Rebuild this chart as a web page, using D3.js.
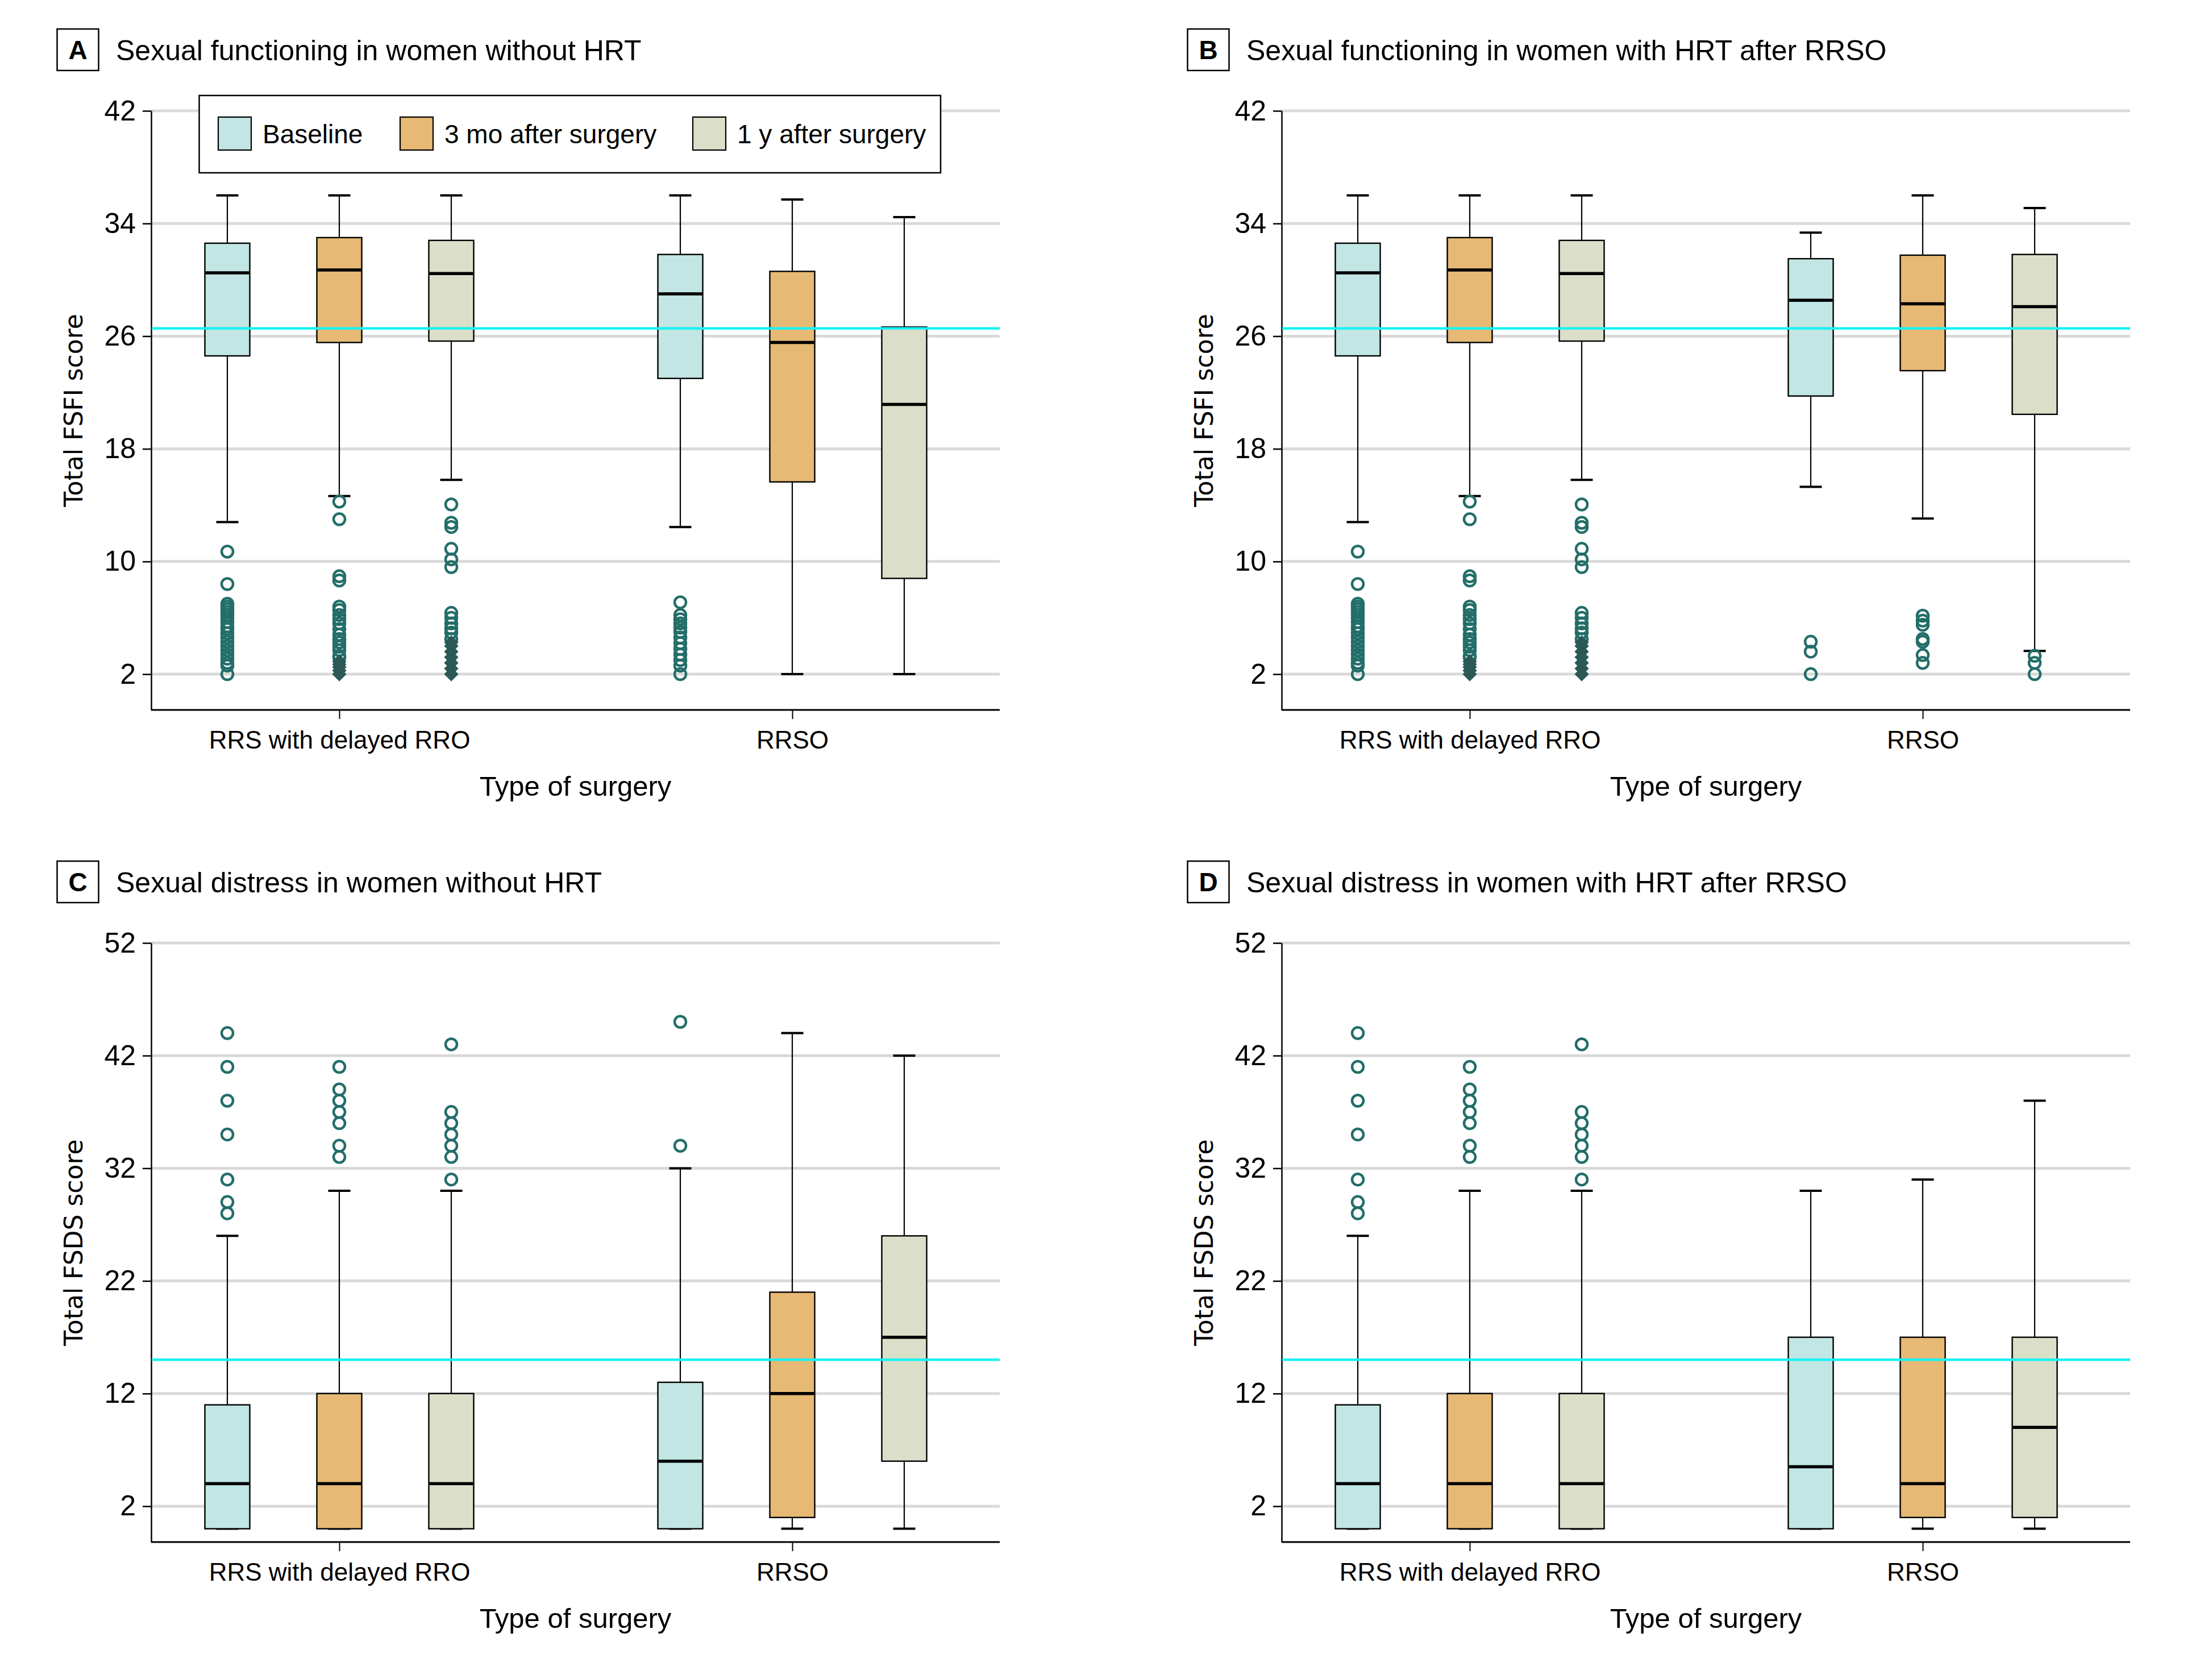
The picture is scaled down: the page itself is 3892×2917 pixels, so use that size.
<!DOCTYPE html>
<html>
<head>
<meta charset="utf-8">
<script src="https://cdn.jsdelivr.net/npm/d3@7"></script>
<style>
  html, body { margin: 0; padding: 0; background: #fff; }
  svg { display: block; }
</style>
</head>
<body>
<svg id="chart" width="3892" height="2917"></svg>
<script>
// ---------------- DATA ----------------
const surgeries = ["RRS with delayed RRO", "RRSO"];
const timepoints = ["Baseline", "3 mo after surgery", "1 y after surgery"];
const fills = ["#C1E6E4", "#E6B974", "#DBDFC9"];

const fsfiTicks = [2, 10, 18, 26, 34, 42];
const fsdsTicks = [2, 12, 22, 32, 42, 52];
const fsfiCutoff = 26.55;
const fsdsCutoff = 15;

// box stats per time point: [lower whisker, Q1, median, Q3, upper whisker]
const fsfiRRS = [
  [12.8, 24.6, 30.5, 32.6, 36],
  [14.65, 25.55, 30.7, 33.0, 36],
  [15.8, 25.65, 30.45, 32.8, 36]
];
const fsfiRRSONoHRT = [
  [12.45, 23.0, 29.0, 31.8, 36],
  [2, 15.65, 25.55, 30.6, 35.7],
  [2, 8.8, 21.15, 26.65, 34.45]
];
const fsfiRRSOHRT = [
  [15.3, 21.75, 28.55, 31.5, 33.35],
  [13.05, 23.55, 28.3, 31.75, 36],
  [3.65, 20.45, 28.1, 31.8, 35.1]
];
const fsdsRRS = [
  [0, 0, 4, 11, 26],
  [0, 0, 4, 12, 30],
  [0, 0, 4, 12, 30]
];
const fsdsRRSONoHRT = [
  [0, 0, 6, 13, 32],
  [0, 1, 12, 21, 44],
  [0, 6, 17, 26, 42]
];
const fsdsRRSOHRT = [
  [0, 0, 5.5, 17, 30],
  [0, 1, 4, 17, 31],
  [0, 1, 9, 17, 38]
];

// outliers (open circles) per time point
const fsfiRRSOut = [
  [10.7, 8.4, 7.0, 6.8, 6.6, 6.4, 6.2, 6.0, 5.7, 5.4, 5.2, 4.9, 4.6, 4.3, 4.0, 3.7, 3.4, 3.1, 2.8, 2.6, 2.0],
  [14.25, 13.0, 8.95, 8.65, 6.8, 6.55, 6.2, 5.9, 5.6, 5.2, 4.8, 4.5, 4.25, 3.95, 3.7, 3.3, 3.2],
  [14.05, 12.75, 12.45, 10.9, 10.15, 9.6, 6.35, 6.0, 5.6, 5.25, 4.95, 4.5]
];
// far outliers (filled diamonds) per time point
const fsfiRRSFar = [
  [],
  [2.9, 2.7, 2.5, 2.25, 2.0],
  [4.25, 4.0, 3.6, 3.2, 2.8, 2.4, 2.0]
];
const fsfiRRSONoHRTOut = [
  [7.1, 6.2, 5.9, 5.6, 5.3, 5.0, 4.6, 4.2, 3.8, 3.4, 3.0, 2.6, 2.0],
  [],
  []
];
const fsfiRRSOHRTOut = [
  [4.3, 3.6, 2.0],
  [6.15, 5.8, 5.5, 4.5, 4.3, 3.35, 2.8],
  [3.3, 2.8, 2.0]
];
const fsdsRRSOut = [
  [44, 41, 38, 35, 31, 29, 28],
  [41, 39, 38, 37, 36, 34, 33],
  [43, 37, 36, 35, 34, 33, 31]
];
const fsdsRRSONoHRTOut = [[45, 34], [], []];
const fsdsRRSOHRTOut = [[], [], []];

const panels = [
  { letter: "A", title: "Sexual functioning in women without HRT", yTitle: "Total FSFI score",
    ticks: fsfiTicks, yMin: -0.54, cutoff: fsfiCutoff, legend: true,
    stats: [fsfiRRS, fsfiRRSONoHRT], out: [fsfiRRSOut, fsfiRRSONoHRTOut], far: [fsfiRRSFar, [[], [], []]] },
  { letter: "B", title: "Sexual functioning in women with HRT after RRSO", yTitle: "Total FSFI score",
    ticks: fsfiTicks, yMin: -0.54, cutoff: fsfiCutoff, legend: false,
    stats: [fsfiRRS, fsfiRRSOHRT], out: [fsfiRRSOut, fsfiRRSOHRTOut], far: [fsfiRRSFar, [[], [], []]] },
  { letter: "C", title: "Sexual distress in women without HRT", yTitle: "Total FSDS score",
    ticks: fsdsTicks, yMin: -1.18, cutoff: fsdsCutoff, legend: false,
    stats: [fsdsRRS, fsdsRRSONoHRT], out: [fsdsRRSOut, fsdsRRSONoHRTOut], far: [[[], [], []], [[], [], []]] },
  { letter: "D", title: "Sexual distress in women with HRT after RRSO", yTitle: "Total FSDS score",
    ticks: fsdsTicks, yMin: -1.18, cutoff: fsdsCutoff, legend: false,
    stats: [fsdsRRS, fsdsRRSOHRT], out: [fsdsRRSOut, fsdsRRSOHRTOut], far: [[[], [], []], [[], [], []]] }
];

// ---------------- LAYOUT ----------------
const offsets = [[0, 0], [1989, 0], [0, 1464], [1989, 1464]];
const L = { axisX: 266, right: 1759, top: 195, bottom: 1249 };
const FONT = "'Liberation Sans', Arial, sans-serif";
const boxW = 79, capW = 39;

const svg = d3.select("#chart");

panels.forEach((p, pi) => {
  const g = svg.append("g").attr("transform", `translate(${offsets[pi][0]},${offsets[pi][1]})`);

  const y = d3.scaleLinear().domain([p.yMin, d3.max(p.ticks)]).range([L.bottom, L.top]);
  const x = d3.scalePoint().domain(surgeries).range([597, 1394]);
  const xOff = d3.scalePoint().domain(timepoints).range([-197, 197]);
  const color = d3.scaleOrdinal().domain(timepoints).range(fills);

  // panel label + title
  g.append("rect").attr("x", 100.5).attr("y", 51).attr("width", 73).attr("height", 73)
    .attr("fill", "#fff").attr("stroke", "#000").attr("stroke-width", 2.5);
  g.append("text").attr("x", 137).attr("y", 88).attr("text-anchor", "middle")
    .attr("dominant-baseline", "central").attr("font-family", FONT).attr("font-weight", "bold")
    .attr("font-size", 46).text(p.letter);
  g.append("text").attr("x", 204).attr("y", 106).attr("font-family", FONT)
    .attr("font-size", 50).text(p.title);

  // gridlines
  g.append("g").selectAll("line").data(p.ticks).join("line")
    .attr("x1", L.axisX).attr("x2", L.right)
    .attr("y1", d => y(d)).attr("y2", d => y(d))
    .attr("stroke", "#D9D9D9").attr("stroke-width", 5);

  // y axis
  const yAxis = g.append("g").attr("transform", `translate(${L.axisX},0)`)
    .call(d3.axisLeft(y).tickValues(p.ticks).tickSize(15).tickSizeOuter(0).tickPadding(12));
  yAxis.select(".domain").attr("stroke-width", 2.5);
  yAxis.selectAll(".tick line").attr("stroke-width", 2.5);
  yAxis.selectAll("text").attr("font-family", FONT).attr("font-size", 50).attr("fill", "#000");

  // x axis
  g.append("line").attr("x1", L.axisX).attr("x2", L.right).attr("y1", L.bottom).attr("y2", L.bottom)
    .attr("stroke", "#000").attr("stroke-width", 3);
  const xAxis = g.append("g").attr("transform", `translate(0,${L.bottom})`)
    .call(d3.axisBottom(x).tickSize(16).tickPadding(21));
  xAxis.select(".domain").remove();
  xAxis.selectAll(".tick line").attr("stroke-width", 2);
  xAxis.selectAll("text").attr("font-family", FONT).attr("font-size", 44).attr("fill", "#000");

  // axis titles
  g.append("text").attr("x", (L.axisX + L.right) / 2).attr("y", 1400).attr("text-anchor", "middle")
    .attr("font-family", FONT).attr("font-size", 49).text("Type of surgery");
  g.append("text").attr("transform", `translate(129,${(L.top + L.bottom) / 2}) rotate(-90)`)
    .attr("text-anchor", "middle").attr("dominant-baseline", "central")
    .attr("font-family", "'DejaVu Sans', sans-serif").attr("font-size", 44).text(p.yTitle);

  // boxes
  const boxes = [];
  surgeries.forEach((s, si) => timepoints.forEach((t, ti) => {
    const st = p.stats[si][ti];
    boxes.push({ s, t, lo: st[0], q1: st[1], med: st[2], q3: st[3], hi: st[4],
      out: p.out[si][ti], far: p.far[si][ti] });
  }));
  const cx = d => x(d.s) + xOff(d.t);

  const bg = g.append("g").selectAll("g").data(boxes).join("g");
  // whiskers
  bg.append("line").attr("x1", cx).attr("x2", cx).attr("y1", d => y(d.hi)).attr("y2", d => y(d.q3))
    .attr("stroke", "#000").attr("stroke-width", 2.2);
  bg.append("line").attr("x1", cx).attr("x2", cx).attr("y1", d => y(d.q1)).attr("y2", d => y(d.lo))
    .attr("stroke", "#000").attr("stroke-width", 2.2);
  bg.append("line").attr("x1", d => cx(d) - capW / 2).attr("x2", d => cx(d) + capW / 2)
    .attr("y1", d => y(d.hi)).attr("y2", d => y(d.hi)).attr("stroke", "#000").attr("stroke-width", 4);
  bg.append("line").attr("x1", d => cx(d) - capW / 2).attr("x2", d => cx(d) + capW / 2)
    .attr("y1", d => y(d.lo)).attr("y2", d => y(d.lo)).attr("stroke", "#000").attr("stroke-width", 4);
  // box
  bg.append("rect").attr("x", d => cx(d) - boxW / 2).attr("width", boxW)
    .attr("y", d => y(d.q3)).attr("height", d => y(d.q1) - y(d.q3))
    .attr("fill", d => color(d.t)).attr("stroke", "#000").attr("stroke-width", 2.4);
  // median
  bg.append("line").attr("x1", d => cx(d) - boxW / 2 + 1).attr("x2", d => cx(d) + boxW / 2 - 1)
    .attr("y1", d => y(d.med)).attr("y2", d => y(d.med)).attr("stroke", "#000").attr("stroke-width", 5.5);

  // outliers
  bg.each(function (d) {
    const sel = d3.select(this);
    sel.selectAll("circle").data(d.out).join("circle")
      .attr("cx", cx(d)).attr("cy", v => y(v)).attr("r", 10)
      .attr("fill", "none").attr("stroke", "#236E69").attr("stroke-width", 4.5);
    sel.selectAll("path.far").data(d.far).join("path").attr("class", "far")
      .attr("d", d3.symbol(d3.symbolSquare, 320)())
      .attr("transform", v => `translate(${cx(d)},${y(v)}) rotate(45)`)
      .attr("fill", "#2A5956");
  });

  // cutoff line
  g.append("line").attr("x1", L.axisX + 1).attr("x2", L.right)
    .attr("y1", y(p.cutoff)).attr("y2", y(p.cutoff))
    .attr("stroke", "#1CF2F2").attr("stroke-width", 4.5);

  // legend
  if (p.legend) {
    const lg = g.append("g");
    lg.append("rect").attr("x", 350.5).attr("y", 168).attr("width", 1304.5).attr("height", 136)
      .attr("fill", "#fff").attr("stroke", "#000").attr("stroke-width", 2.5);
    const lx = d3.scaleOrdinal().domain(timepoints).range([384, 704, 1219]);
    const items = lg.selectAll("g.item").data(timepoints).join("g").attr("class", "item");
    items.append("rect").attr("x", d => lx(d)).attr("y", 206).attr("width", 58).attr("height", 58)
      .attr("fill", d => color(d)).attr("stroke", "#000").attr("stroke-width", 2.2);
    items.append("text").attr("x", d => lx(d) + 78).attr("y", 236)
      .attr("dominant-baseline", "central").attr("font-family", FONT).attr("font-size", 46).text(d => d);
  }
});
</script>
</body>
</html>
